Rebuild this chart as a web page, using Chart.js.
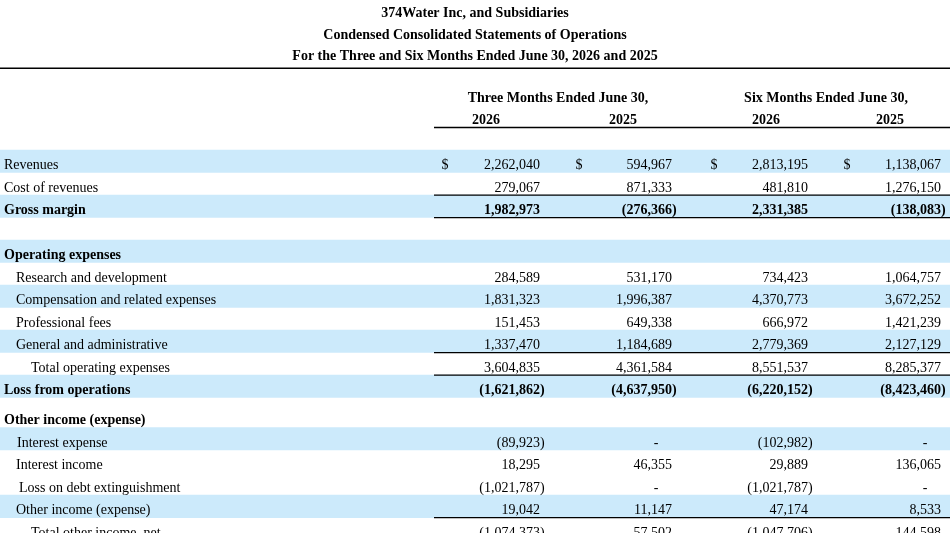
<!DOCTYPE html>
<html>
<head>
<meta charset="utf-8">
<title>374Water Inc. - Condensed Consolidated Statements of Operations</title>
<script src="https://cdn.jsdelivr.net/npm/chart.js@4.4.1/dist/chart.umd.min.js"></script>
<style>
  html, body { margin: 0; padding: 0; background: #fff; }
  canvas { display: block; }
</style>
</head>
<body>
<canvas id="statement" width="950" height="533"></canvas>
<script>
// Statement text and values
const titleLines = [
  '374Water Inc, and Subsidiaries',
  'Condensed Consolidated Statements of Operations',
  'For the Three and Six Months Ended June 30, 2026 and 2025'
];
const periodHeaders = ['Three Months Ended June 30,', 'Six Months Ended June 30,'];
const yearLabels = ['2026', '2025', '2026', '2025'];

const rowLabels = [
  'Revenues',
  'Cost of revenues',
  'Gross margin',
  '',
  'Operating expenses',
  'Research and development',
  'Compensation and related expenses',
  'Professional fees',
  'General and administrative',
  'Total operating expenses',
  'Loss from operations',
  'Other income (expense)',
  'Interest expense',
  'Interest income',
  'Loss on debt extinguishment',
  'Other income (expense)',
  'Total other income, net'
];

const threeMonths2026 = [2262040, 279067, 1982973, null, null, 284589, 1831323, 151453, 1337470, 3604835, -1621862, null, -89923, 18295, -1021787, 19042, -1074373];
const threeMonths2025 = [594967, 871333, -276366, null, null, 531170, 1996387, 649338, 1184689, 4361584, -4637950, null, 0, 46355, 0, 11147, 57502];
const sixMonths2026 = [2813195, 481810, 2331385, null, null, 734423, 4370773, 666972, 2779369, 8551537, -6220152, null, -102982, 29889, -1021787, 47174, -1047706];
const sixMonths2025 = [1138067, 1276150, -138083, null, null, 1064757, 3672252, 1421239, 2127129, 8285377, -8423460, null, 0, 136065, 0, 8533, 144598];

const columns = [threeMonths2026, threeMonths2025, sixMonths2026, sixMonths2025];
const dollarRows = [0];

// Layout and styles (x in page units of the x scale, y in row units)
const rowShaded = [true, false, true, false, true, false, true, false, true, false, true, false, true, false, false, true, false];
const rowBold = [false, false, true, false, true, false, false, false, false, false, true, true, false, false, false, false, false];
const labelIndent = [4, 4, 4, 4, 4, 16, 16, 16, 16, 31, 4, 4, 17, 16, 19, 16, 31];
const rowSpan = rowLabels.map((l, i) => (i === 11 ? 4 / 3 : 1));
const ruleBelow = [1, 2, 8, 9, 15];
const colRight = [540, 672, 808, 941];
const dollarX = [445, 579, 714, 847];
const yearX = [486, 623, 766, 890];
const periodX = [558, 826];
const ruleLeft = 434;
const shade = '#cceafb';
const fontFamily = '"Liberation Serif", "Times New Roman", serif';

const rowTop = [];
let acc = 0;
rowSpan.forEach(s => { rowTop.push(acc); acc += s; });

function font(bold) {
  return (bold ? 'bold ' : '') + '14px ' + fontFamily;
}

function formatValue(v) {
  return Math.abs(v).toLocaleString('en-US');
}

// Draws labels, headers, values and rules on top of the row bands
const statementText = {
  id: 'statementText',
  afterDatasetsDraw(chart) {
    const { ctx, chartArea } = chart;
    const x = chart.scales.x;
    const y = chart.scales.y;
    const baseline = (top, span) => y.getPixelForValue(top + span) - 3.5;

    ctx.save();
    ctx.fillStyle = '#000';
    ctx.strokeStyle = '#000';

    // rule under the title block
    ctx.lineWidth = 1.5;
    ctx.beginPath();
    ctx.moveTo(chartArea.left, chartArea.top + 0.75);
    ctx.lineTo(chartArea.right, chartArea.top + 0.75);
    ctx.stroke();

    // column headers
    ctx.font = font(true);
    ctx.textAlign = 'center';
    ctx.textBaseline = 'alphabetic';
    periodHeaders.forEach((h, i) => ctx.fillText(h, x.getPixelForValue(periodX[i]), baseline(-3, 1)));
    yearLabels.forEach((h, i) => ctx.fillText(h, x.getPixelForValue(yearX[i]), baseline(-2, 1)));

    ctx.lineWidth = 1.5;
    ctx.beginPath();
    ctx.moveTo(x.getPixelForValue(ruleLeft), y.getPixelForValue(-1));
    ctx.lineTo(chartArea.right, y.getPixelForValue(-1));
    ctx.stroke();

    // rows
    rowLabels.forEach((label, i) => {
      const by = baseline(rowTop[i], rowSpan[i]);
      ctx.font = font(rowBold[i]);
      ctx.textAlign = 'left';
      ctx.fillText(label, x.getPixelForValue(labelIndent[i]), by);

      if (dollarRows.includes(i)) {
        ctx.textAlign = 'center';
        dollarX.forEach(dx => ctx.fillText('$', x.getPixelForValue(dx), by));
      }

      columns.forEach((col, c) => {
        const v = col[i];
        if (v === null || v === undefined) return;
        const right = x.getPixelForValue(colRight[c]);
        if (v === 0) {
          ctx.textAlign = 'center';
          ctx.fillText('-', right - 16, by);
        } else if (v < 0) {
          ctx.textAlign = 'right';
          ctx.fillText('(' + formatValue(v), right, by);
          ctx.textAlign = 'left';
          ctx.fillText(')', right, by);
        } else {
          ctx.textAlign = 'right';
          ctx.fillText(formatValue(v), right, by);
        }
      });
    });

    // total rules
    ctx.lineWidth = 1.3;
    ruleBelow.forEach(i => {
      const ry = y.getPixelForValue(rowTop[i] + rowSpan[i]);
      ctx.beginPath();
      ctx.moveTo(x.getPixelForValue(ruleLeft), ry);
      ctx.lineTo(chartArea.right, ry);
      ctx.stroke();
    });

    ctx.restore();
  }
};

const statement = new Chart(document.getElementById('statement').getContext('2d'), {
  type: 'bar',
  data: {
    datasets: [{
      label: 'rows',
      data: rowLabels.map((l, i) => ({ y: rowTop[i] + rowSpan[i] / 2, x: [0, 950] })),
      backgroundColor: rowShaded.map(s => (s ? shade : 'rgba(0,0,0,0)')),
      borderWidth: 0,
      barPercentage: 1,
      categoryPercentage: 1
    }]
  },
  options: {
    indexAxis: 'y',
    responsive: false,
    animation: false,
    layout: { padding: 0 },
    scales: {
      x: { type: 'linear', min: 0, max: 950, display: false },
      y: {
        type: 'linear',
        reverse: true,
        offset: false,
        min: -3.667,
        max: 17.02,
        display: false,
        ticks: { stepSize: 1, includeBounds: false }
      }
    },
    plugins: {
      legend: { display: false },
      tooltip: { enabled: false },
      title: {
        display: true,
        text: titleLines,
        color: '#000',
        font: { family: fontFamily, size: 14, weight: 'bold', lineHeight: 1.536 },
        padding: { top: 3, bottom: 0 }
      }
    }
  },
  plugins: [statementText]
});
</script>
</body>
</html>
